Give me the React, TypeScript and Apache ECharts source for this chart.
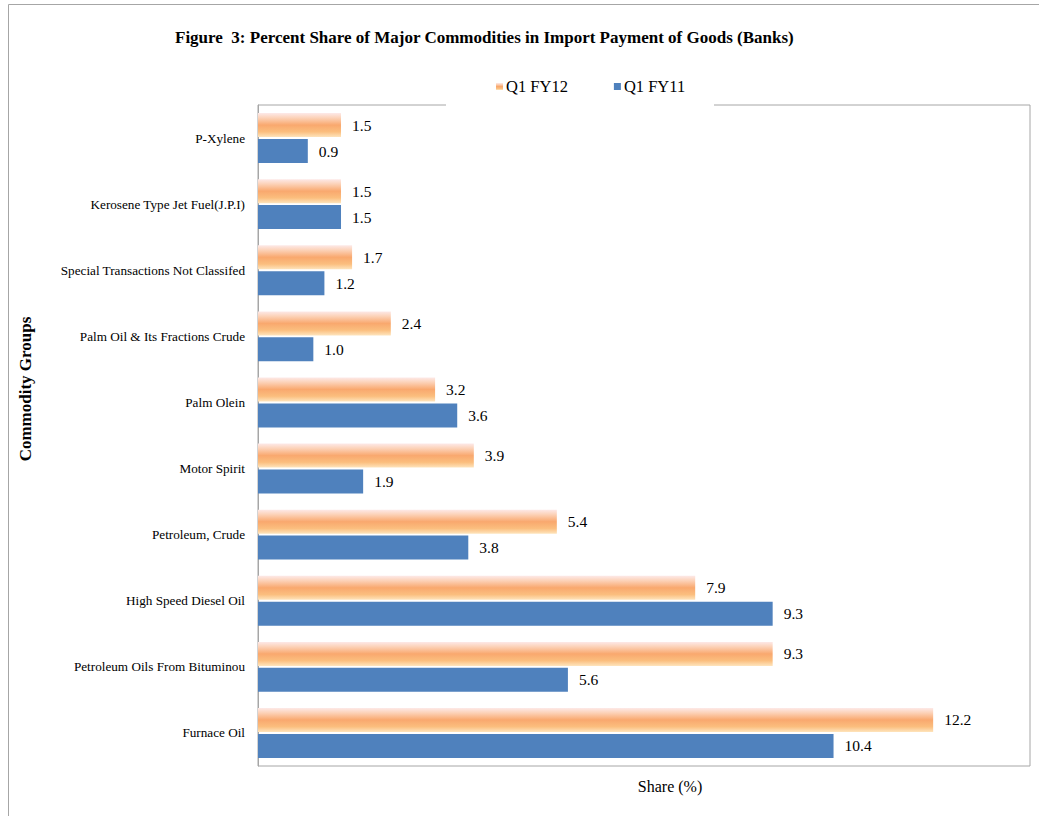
import React, { useEffect, useRef } from "react";
import * as echarts from "echarts";

const categories = [
  "P-Xylene",
  "Kerosene Type Jet Fuel(J.P.I)",
  "Special Transactions Not Classifed",
  "Palm Oil & Its Fractions Crude",
  "Palm Olein",
  "Motor Spirit",
  "Petroleum, Crude",
  "High Speed Diesel Oil",
  "Petroleum Oils From Bituminou",
  "Furnace Oil",
];
const fy12 = [1.5, 1.5, 1.7, 2.4, 3.2, 3.9, 5.4, 7.9, 9.3, 12.2];
const fy11 = [0.9, 1.5, 1.2, 1.0, 3.6, 1.9, 3.8, 9.3, 5.6, 10.4];
const seriesNames = ["Q1 FY12", "Q1 FY11"];

const FONT = "'Liberation Serif', 'Times New Roman', serif";

export default function App() {
  const ref = useRef<HTMLDivElement>(null);
  useEffect(() => {
    document.body.style.margin = "0";
    const chart = echarts.init(ref.current!, null, { renderer: "svg" });
    const orangeGrad = new echarts.graphic.LinearGradient(0, 0, 0, 1, [
      { offset: 0, color: "#FDE9E8" },
      { offset: 0.2, color: "#FCD2B8" },
      { offset: 0.5, color: "#F9A86E" },
      { offset: 0.78, color: "#FBBE7E" },
      { offset: 1, color: "#FEE4BC" },
    ]);
    const label = {
      show: true,
      position: "right",
      distance: 11,
      fontSize: 15.5,
      color: "#000",
      fontFamily: FONT,
      formatter: (p: any) => Number(p.value).toFixed(1),
    };
    chart.setOption({
      animation: false,
      backgroundColor: "#fff",
      title: {
        text: "Figure  3: Percent Share of Major Commodities in Import Payment of Goods (Banks)",
        left: 170,
        top: 24,
        textStyle: { fontSize: 17, fontWeight: "bold", color: "#000", fontFamily: FONT },
      },
      legend: {
        data: seriesNames,
        left: 491,
        top: 73,
        icon: "rect",
        itemWidth: 7,
        itemHeight: 7,
        itemGap: 46,
        textStyle: { fontSize: 16.5, color: "#000", fontFamily: FONT, padding: [0, 0, 0, -2] },
      },
      grid: {
        left: 258,
        top: 105,
        right: 9,
        bottom: 50,
        show: true,
        borderColor: "#A6A6A6",
        borderWidth: 1,
        containLabel: false,
      },
      xAxis: {
        type: "value",
        min: 0,
        max: 13.95,
        axisLabel: { show: false },
        axisLine: { show: false },
        axisTick: { show: false },
        splitLine: { show: false },
      },
      yAxis: {
        type: "category",
        data: categories,
        inverse: true,
        axisLine: { show: true, lineStyle: { color: "#A6A6A6" } },
        axisTick: { show: false },
        axisLabel: { fontSize: 13.2, color: "#000", fontFamily: FONT, margin: 13 },
      },
      series: [
        {
          name: seriesNames[0],
          type: "bar",
          data: fy12,
          barWidth: 24,
          barGap: "8%",
          itemStyle: { color: orangeGrad },
          label,
        },
        {
          name: seriesNames[1],
          type: "bar",
          data: fy11,
          barWidth: 24,
          barGap: "8%",
          itemStyle: { color: "#4F81BD" },
          label,
        },
      ],
      graphic: [
        {
          type: "rect",
          shape: { x: 8.5, y: 4.5, width: 1100, height: 900 },
          style: { fill: "none", stroke: "#A6A6A6", lineWidth: 1 },
          silent: true,
        },
        {
          type: "rect",
          shape: { x: 446, y: 100, width: 268, height: 8 },
          style: { fill: "#fff" },
          z: 10,
          silent: true,
        },
        {
          type: "text",
          x: 25,
          y: 389,
          rotation: Math.PI / 2,
          style: {
            text: "Commodity Groups",
            fontSize: 17,
            fontWeight: "bold",
            fontFamily: FONT,
            fill: "#000",
            align: "center",
            verticalAlign: "middle",
          },
        },
        {
          type: "text",
          x: 670,
          y: 786,
          style: {
            text: "Share (%)",
            fontSize: 16,
            fontFamily: FONT,
            fill: "#000",
            align: "center",
            verticalAlign: "middle",
          },
        },
      ],
    });
    return () => chart.dispose();
  }, []);
  return <div ref={ref} style={{ width: 1039, height: 816 }} />;
}
